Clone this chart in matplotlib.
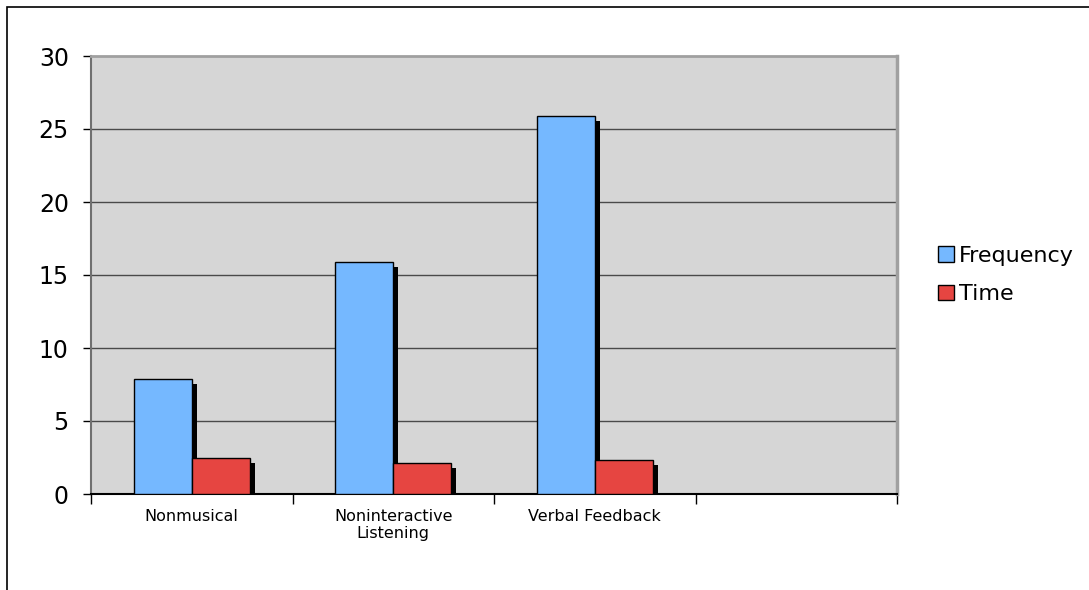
import matplotlib
matplotlib.use("Agg")
import numpy as np
from matplotlib import pyplot as plt
from matplotlib import transforms
from matplotlib.patches import Rectangle

categories = ["Nonmusical", "Noninteractive\nListening", "Verbal Feedback", ""]
frequency = [7.9, 15.9, 25.9, 0]
time_vals = [2.5, 2.15, 2.3, 0]
series_names = ["Frequency", "Time"]
colors = ["#75b8ff", "#e64541"]
yticks = [0, 5, 10, 15, 20, 25, 30]

plt.rcParams['font.family'] = ['DejaVu Sans']

fig = plt.figure(figsize=(10.89, 5.9), dpi=100)
ax = fig.add_axes([91 / 1089, 1 - 494 / 590, (897 - 91) / 1089, (494 - 56) / 590])
ax.set_facecolor("#d6d6d6")

# outer frame (only top and left visible in the reference)
fig.patches.append(Rectangle((7 / 1089, -0.1), 1.2, 1 - 7 / 590 + 0.1,
                             transform=fig.transFigure, fill=False,
                             edgecolor="black", linewidth=1.2))

n = len(categories)
x = np.arange(n)
w = 0.288
shadow = transforms.offset_copy(ax.transData, fig=fig, x=5, y=-5, units='dots')

for vals, off, col, name in [(frequency, 0.213, colors[0], series_names[0]),
                             (time_vals, 0.213 + w, colors[1], series_names[1])]:
    ax.bar(x + off, vals, width=w, align='edge', color='black', linewidth=0,
           transform=shadow, zorder=2)
    ax.bar(x + off, vals, width=w, align='edge', color=col, edgecolor='black',
           linewidth=1, zorder=3, label=name)

ax.set_xlim(0, n)
ax.set_ylim(0, 30)
ax.set_yticks(yticks)
ax.set_yticklabels([str(v) for v in yticks], fontsize=17)
for v in yticks[1:-1]:
    ax.axhline(v, color="#4a4a4a", linewidth=1, zorder=1)

ax.set_xticks(np.arange(n + 1))
ax.set_xticklabels([])
ax.set_xticks(x + 0.5, minor=True)
ax.set_xticklabels(categories, minor=True, fontsize=11.5, linespacing=1.15)
ax.tick_params(axis='x', which='minor', length=0, pad=11)
ax.tick_params(axis='x', which='major', length=7, width=1, direction='out')
ax.tick_params(axis='y', length=6, width=1, direction='out', pad=10)

ax.spines['left'].set_color("#707070")
ax.spines['left'].set_linewidth(1.5)
ax.spines['bottom'].set_color("black")
ax.spines['bottom'].set_linewidth(1.5)
ax.spines['top'].set_color("#a0a0a0")
ax.spines['top'].set_linewidth(2)
ax.spines['right'].set_color("#a0a0a0")
ax.spines['right'].set_linewidth(2.5)

leg = ax.legend(loc='center left', bbox_to_anchor=(1.04, 0.50), frameon=False,
                fontsize=16, handlelength=0.7, handleheight=0.7,
                handletextpad=0.25, labelspacing=0.85, borderaxespad=0)

fig.savefig("out.png", dpi=100)
